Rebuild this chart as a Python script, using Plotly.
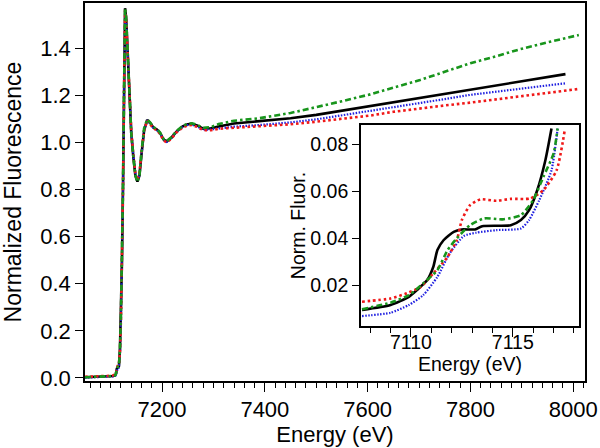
import plotly.graph_objects as go

# ---------------- main panel data ----------------
energy_main = [7050, 7070, 7090, 7100, 7105, 7108, 7110, 7112, 7114, 7116, 7118, 7120,
               7122, 7124, 7126, 7128, 7130, 7133, 7136, 7140, 7144, 7148, 7152, 7156,
               7160, 7165, 7171, 7177, 7183, 7190, 7196, 7203, 7209, 7218, 7228, 7240,
               7250, 7258, 7268, 7280, 7295, 7310, 7340, 7390, 7450, 7500, 7550, 7605,
               7650, 7702, 7750, 7800, 7850, 7897, 7950]
end_energy_short = 7985   # black, blue end here
end_energy_long = 8011    # red, green end here

black_main = [0.003, 0.004, 0.005, 0.006, 0.008, 0.010, 0.016, 0.040, 0.044, 0.050, 0.12, 0.26,
              0.50, 0.82, 1.22, 1.57, 1.53, 1.37, 1.20, 1.04, 0.94, 0.86, 0.834, 0.86,
              0.95, 1.05, 1.096, 1.082, 1.063, 1.055, 1.04, 1.012, 1.004, 1.020, 1.046, 1.068,
              1.077, 1.079, 1.072, 1.058, 1.060, 1.068, 1.080, 1.089, 1.103, 1.117, 1.135, 1.153,
              1.170, 1.188, 1.205, 1.223, 1.240, 1.258, 1.276, 1.290]
blue_main = [0.001, 0.002, 0.003, 0.004, 0.005, 0.007, 0.011, 0.033, 0.043, 0.044, 0.10, 0.24,
             0.48, 0.80, 1.20, 1.55, 1.52, 1.37, 1.20, 1.05, 0.95, 0.87, 0.838, 0.86,
             0.95, 1.05, 1.094, 1.080, 1.060, 1.052, 1.038, 1.010, 1.002, 1.018, 1.044, 1.066,
             1.074, 1.076, 1.068, 1.054, 1.055, 1.060, 1.067, 1.074, 1.085, 1.098, 1.115, 1.132,
             1.149, 1.166, 1.184, 1.202, 1.216, 1.230, 1.242, 1.251]
red_main = [0.005, 0.006, 0.007, 0.009, 0.011, 0.013, 0.017, 0.040, 0.056, 0.057, 0.11, 0.25,
            0.49, 0.81, 1.21, 1.56, 1.53, 1.38, 1.21, 1.05, 0.95, 0.87, 0.840, 0.87,
            0.96, 1.05, 1.093, 1.078, 1.060, 1.052, 1.036, 1.008, 1.000, 1.016, 1.042, 1.064,
            1.072, 1.074, 1.066, 1.052, 1.052, 1.058, 1.062, 1.067, 1.077, 1.088, 1.100, 1.114,
            1.130, 1.145, 1.157, 1.169, 1.182, 1.195, 1.210, 1.227]
green_main = [0.003, 0.004, 0.005, 0.006, 0.008, 0.010, 0.016, 0.038, 0.048, 0.050, 0.12, 0.27,
              0.51, 0.83, 1.23, 1.57, 1.53, 1.37, 1.20, 1.04, 0.94, 0.86, 0.832, 0.86,
              0.96, 1.06, 1.098, 1.084, 1.065, 1.057, 1.042, 1.014, 1.006, 1.022, 1.048, 1.070,
              1.079, 1.081, 1.075, 1.062, 1.065, 1.078, 1.092, 1.103, 1.125, 1.149, 1.175, 1.204,
              1.233, 1.265, 1.300, 1.336, 1.366, 1.396, 1.425, 1.456]

# ---------------- inset (pre-edge) data ----------------
inset_energy_black = [7107.6, 7109.0, 7109.9, 7110.3, 7110.8, 7111.1, 7111.3, 7111.6, 7112.1,
                      7112.5, 7113.15, 7113.5, 7114.9, 7115.4, 7115.8, 7116.2, 7116.6, 7116.9]
inset_black = [0.0094, 0.0115, 0.0150, 0.0179, 0.0221, 0.0278, 0.0349, 0.0391, 0.0427,
               0.0437, 0.0437, 0.0451, 0.0455, 0.0477, 0.0519, 0.0604, 0.0732, 0.0867]

inset_energy_red = [7107.6, 7109.0, 7109.8, 7110.5, 7111.1, 7111.8, 7112.25, 7112.5, 7112.9,
                    7113.4, 7114.2, 7114.9, 7115.85, 7116.5, 7117.15, 7117.55]
inset_red = [0.0129, 0.0143, 0.0165, 0.0193, 0.0250, 0.0320, 0.0391, 0.0477, 0.0540,
             0.0565, 0.0559, 0.0567, 0.0569, 0.0604, 0.0689, 0.0860]

inset_energy_blue = [7107.6, 7109.0, 7109.9, 7110.6, 7111.3, 7111.9, 7112.6, 7113.2, 7114.2,
                     7115.4, 7115.8, 7116.3, 7116.9, 7117.2]
inset_blue = [0.0068, 0.0082, 0.0115, 0.0157, 0.0235, 0.0335, 0.0409, 0.0423, 0.0434,
              0.0441, 0.0477, 0.0562, 0.0689, 0.0867]

inset_energy_green = [7107.6, 7109.0, 7109.9, 7110.6, 7111.3, 7111.8, 7112.25, 7112.9, 7113.6,
                      7114.5, 7115.4, 7116.0, 7116.5, 7117.0, 7117.2]
inset_green = [0.0097, 0.0125, 0.0157, 0.0207, 0.0264, 0.0349, 0.0399, 0.0455, 0.0484,
               0.0480, 0.0498, 0.0562, 0.0661, 0.0760, 0.0867]

# ---------------- styles ----------------
FONT = "Liberation Sans, Arial, sans-serif"
BLACK = "#000000"
BLUE = "#2020e0"
RED = "#f01818"
GREEN = "#18951c"

styles = {
    "black": dict(color=BLACK, width=2.6, dash="solid"),
    "blue": dict(color=BLUE, width=2.2, dash="1.5px,1.5px"),
    "red": dict(color=RED, width=2.6, dash="2.6px,2.8px"),
    "green": dict(color=GREEN, width=2.6, dash="6px,3px,2.5px,3px"),
}

fig = go.Figure()

main_series = [
    ("black", energy_main + [end_energy_short], black_main),
    ("blue", energy_main + [end_energy_short], blue_main),
    ("red", energy_main + [end_energy_long], red_main),
    ("green", energy_main + [end_energy_long], green_main),
]
for name, xs, ys in main_series:
    fig.add_trace(go.Scatter(x=xs, y=ys, mode="lines", line=styles[name],
                             xaxis="x", yaxis="y", showlegend=False))

inset_series = [
    ("black", inset_energy_black, inset_black),
    ("blue", inset_energy_blue, inset_blue),
    ("red", inset_energy_red, inset_red),
    ("green", inset_energy_green, inset_green),
]
for name, xs, ys in inset_series:
    fig.add_trace(go.Scatter(x=xs, y=ys, mode="lines",
                             line=dict(shape="spline", smoothing=0.6, **styles[name]),
                             xaxis="x2", yaxis="y2", showlegend=False))

W, H = 600, 448
main_l, main_r, main_t, main_b = 85, 585, 3, 381
ins_l, ins_r, ins_t, ins_b = 361, 579, 125, 326

axis_common = dict(showline=True, linecolor="black", linewidth=1.6, mirror=True,
                   showgrid=False, zeroline=False, ticks="outside", tickcolor="black",
                   tickwidth=1.4, automargin=False)

MAIN_FS = 22
INS_FS = 19.5

fig.update_layout(
    width=W, height=H,
    margin=dict(l=0, r=0, t=0, b=0),
    paper_bgcolor="white", plot_bgcolor="white",
    font=dict(family=FONT, color="black", size=MAIN_FS),
    xaxis=dict(domain=[main_l / W, main_r / W], anchor="y",
               range=[7050, 8023], tick0=0, dtick=200, ticklen=9,
               minor=dict(ticks="outside", dtick=20, tick0=0, ticklen=5,
                          tickcolor="black", tickwidth=1.4),
               tickfont=dict(size=MAIN_FS, family=FONT), ticklabelstandoff=-1,
               title=dict(text="Energy (eV)", font=dict(size=MAIN_FS, family=FONT), standoff=2),
               **axis_common),
    yaxis=dict(domain=[1 - main_b / H, 1 - main_t / H], anchor="x",
               range=[-0.013, 1.592], tick0=0, dtick=0.2, tickformat=".1f", ticklen=8,
               tickfont=dict(size=MAIN_FS, family=FONT),
               title=dict(text="Normalized Fluorescence", font=dict(size=23, family=FONT),
                          standoff=14),
               **axis_common),
    xaxis2=dict(domain=[ins_l / W, ins_r / W], anchor="y2",
                range=[7107.55, 7118.25], tick0=7110, dtick=5, ticklen=9,
                minor=dict(ticks="outside", dtick=1, tick0=7110, ticklen=5,
                           tickcolor="black", tickwidth=1.4),
                tickfont=dict(size=INS_FS, family=FONT), ticklabelstandoff=-11,
                title=dict(text="Energy (eV)", font=dict(size=INS_FS, family=FONT), standoff=0),
                **axis_common),
    yaxis2=dict(domain=[1 - ins_b / H, 1 - ins_t / H], anchor="x2",
                range=[0.00255, 0.0882], tick0=0, dtick=0.02, tickformat=".2f", ticklen=7,
                tickfont=dict(size=INS_FS, family=FONT),
                title=dict(text="Norm. Fluor.", font=dict(size=INS_FS, family=FONT), standoff=0),
                **axis_common),
)

# remove the browser's default 8px page margin so the figure sits at the window origin
fig.write_html("out.html", config={"displayModeBar": False},
               post_script="document.body.style.margin='0';")
